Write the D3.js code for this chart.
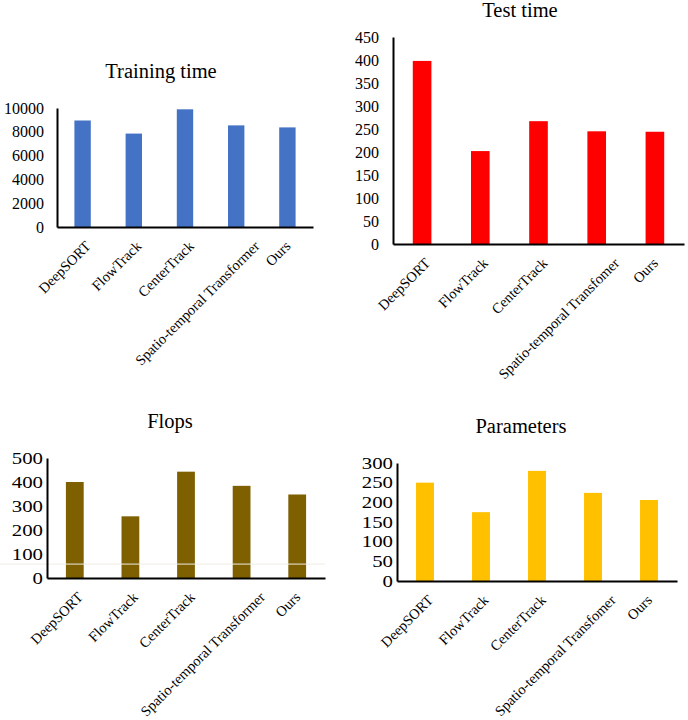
<!DOCTYPE html>
<html>
<head>
<meta charset="utf-8">
<script src="https://cdn.jsdelivr.net/npm/d3@7"></script>
<style>
  body { margin: 0; background: #fff; }
  svg text { font-family: "Liberation Serif", "Times New Roman", serif; fill: #000; }
</style>
</head>
<body>
<div id="chart"></div>
<script>
// values
var categories = ["DeepSORT", "FlowTrack", "CenterTrack", "Spatio-temporal Transformer", "Ours"];
var categoriesAlt = ["DeepSORT", "FlowTrack", "CenterTrack", "Spatio-temporal Transfomer", "Ours"];

var trainingTime = [8950, 7850, 9890, 8540, 8370];
var testTime = [398, 202, 267, 245, 244];
var flops = [400, 257, 443, 384, 348];
var parameters = [250, 175, 280, 224, 206];

var trainingTicks = [0, 2000, 4000, 6000, 8000, 10000];
var testTicks = [0, 50, 100, 150, 200, 250, 300, 350, 400, 450];
var flopsTicks = [0, 100, 200, 300, 400, 500];
var paramTicks = [0, 50, 100, 150, 200, 250, 300];

var W = 688, H = 720;
var serif = '"Liberation Serif", "Times New Roman", serif';

var svg = d3.select("#chart")
  .append("svg")
  .attr("width", W)
  .attr("height", H);

// one panel per metric; box = axis corners in page pixels
var panels = [
  {title: "Training time", values: trainingTime, ticks: trainingTicks, labels: categories,
   color: "#4472C4", box: [57, 313, 108, 227], titleX: 161, titleY: 78, tickPad: 13, tickStretch: 1},
  {title: "Test time", values: testTime, ticks: testTicks, labels: categoriesAlt,
   color: "#FF0000", box: [393, 684, 37, 244], titleX: 520, titleY: 17, tickPad: 14, tickStretch: 1},
  {title: "Flops", values: flops, ticks: flopsTicks, labels: categories,
   color: "#7F6000", box: [47, 325, 458, 578], titleX: 170, titleY: 428, tickPad: 4, tickStretch: 1.3},
  {title: "Parameters", values: parameters, ticks: paramTicks, labels: categoriesAlt,
   color: "#FFC000", box: [397, 677, 463, 581], titleX: 521, titleY: 433, tickPad: 4, tickStretch: 1.3}
];

panels.forEach(function(p) {
  var x0 = p.box[0], x1 = p.box[1], y0 = p.box[2], y1 = p.box[3];

  var x = d3.scaleBand()
    .domain(p.labels)
    .range([x0, x1])
    .paddingInner(0.68)
    .paddingOuter(0.34);

  var y = d3.scaleLinear()
    .domain([0, d3.max(p.ticks)])
    .range([y1, y0]);

  var g = svg.append("g");

  g.selectAll(".bar")
    .data(p.values)
    .enter()
    .append("rect")
    .attr("class", "bar")
    .attr("x", function(d, i) { return x(p.labels[i]); })
    .attr("y", function(d) { return y(d); })
    .attr("width", x.bandwidth())
    .attr("height", function(d) { return y1 - y(d); })
    .attr("fill", p.color);

  // faint stray line seen across the Flops panel
  if (p.title == "Flops") {
    g.append("line")
      .attr("x1", 0).attr("x2", x1)
      .attr("y1", y(58)).attr("y2", y(58))
      .attr("stroke", "#f0ece4")
      .attr("stroke-width", 1);
  }

  // y axis
  var yAxis = g.append("g")
    .attr("transform", "translate(" + x0 + ",0)")
    .call(d3.axisLeft(y).tickValues(p.ticks).tickFormat(d3.format("d"))
      .tickSize(0).tickSizeOuter(0).tickPadding(p.tickPad));
  yAxis.attr("font-family", serif);
  yAxis.select(".domain").attr("stroke", "#000").attr("stroke-width", 2);
  yAxis.selectAll("text")
    .style("font-family", serif)
    .style("font-size", "16px")
    .attr("transform", function() {
      var xx = -p.tickPad;
      return "translate(" + xx + ",0) scale(" + p.tickStretch + ",1) translate(" + (-xx) + ",0)";
    });

  // x axis
  var xAxis = g.append("g")
    .attr("transform", "translate(0," + y1 + ")")
    .call(d3.axisBottom(x).tickSize(0).tickSizeOuter(0));
  xAxis.attr("font-family", serif);
  xAxis.select(".domain").attr("stroke", "#000").attr("stroke-width", 2);
  xAxis.selectAll("text")
    .style("font-family", serif)
    .style("font-size", "14.5px")
    .attr("text-anchor", "end")
    .attr("dy", null)
    .attr("y", 0)
    .attr("transform", function() {
      var len = this.getComputedTextLength();
      var dx = Math.max(0, 0.15 * len - 5) + 4;
      return "translate(" + dx + ",20) rotate(-45)";
    });

  g.append("text")
    .attr("x", p.titleX)
    .attr("y", p.titleY)
    .attr("text-anchor", "middle")
    .style("font-family", serif)
    .style("font-size", "20.5px")
    .text(p.title);
});
</script>
</body>
</html>
